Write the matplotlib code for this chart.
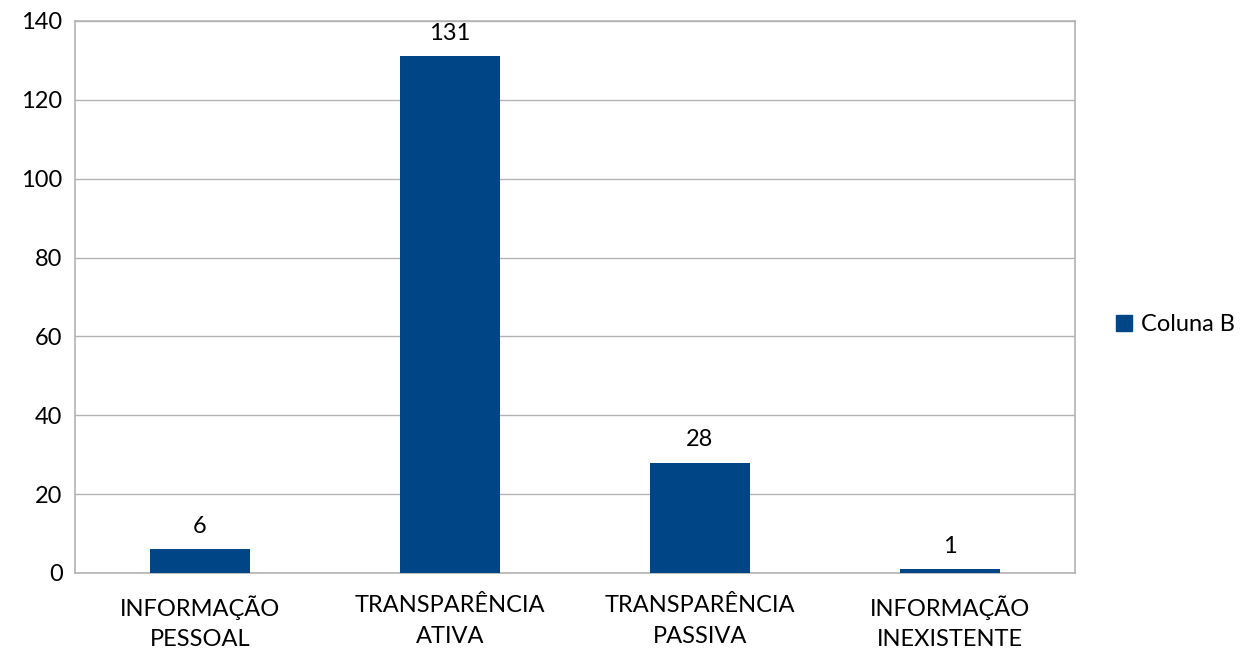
import matplotlib
matplotlib.use("Agg")
import matplotlib.pyplot as plt
from matplotlib.patches import Patch

categorias = ["INFORMAÇÃO\nPESSOAL", "TRANSPARÊNCIA\nATIVA", "TRANSPARÊNCIA\nPASSIVA", "INFORMAÇÃO\nINEXISTENTE"]
valores = [6, 131, 28, 1]
serie = "Coluna B"

plt.rcParams['font.family'] = ['Lato', 'DejaVu Sans']
cor = "#004586"
cinza = "#b3b3b3"

fig = plt.figure(figsize=(12.44, 6.52), dpi=100)
ax = fig.add_axes([0.0603, 0.1212, 0.8038, 0.8466])

x = list(range(len(categorias)))
ax.bar(x, valores, width=0.4, color=cor, zorder=3)
for xi, v in zip(x, valores):
    ax.annotate(str(v), (xi, v), xytext=(0, 9), textcoords="offset points",
                ha="center", va="bottom", fontsize=17)

ax.set_xlim(-0.5, 3.5)
ax.set_ylim(0, 140)
ax.set_yticks(range(0, 141, 20))
ax.set_xticks(x)
ax.set_xticklabels(categorias, fontsize=17, linespacing=1.55)
ax.tick_params(axis="y", labelsize=17, length=0, pad=9)
ax.tick_params(axis="x", length=0, pad=16)
ax.grid(axis="y", color=cinza, linewidth=1, zorder=0)
for s in ax.spines.values():
    s.set_color(cinza)
    s.set_linewidth(1.2)

fig.legend(handles=[Patch(color=cor, label=serie)], loc="center left",
           bbox_to_anchor=(0.897, 0.502), frameon=False, fontsize=17,
           handlelength=0.7, handleheight=0.7, handletextpad=0.35,
           borderaxespad=0, borderpad=0)

fig.savefig("out.png", dpi=100)
